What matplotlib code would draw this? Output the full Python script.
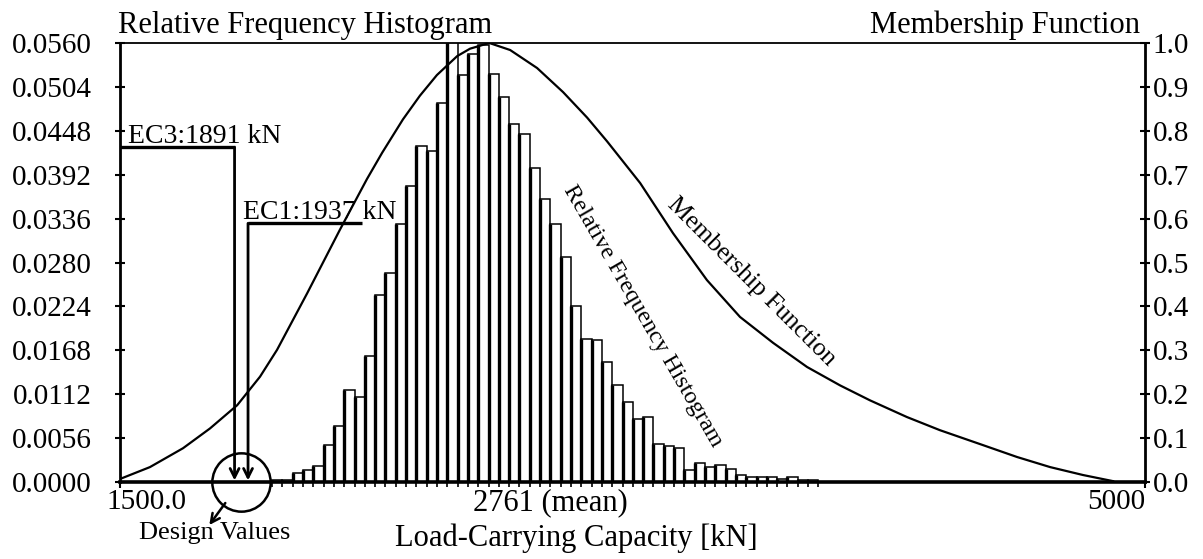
import numpy as np
import matplotlib
matplotlib.use('Agg')
import matplotlib.pyplot as plt
from matplotlib.transforms import ScaledTranslation, offset_copy

plt.rcParams['font.family'] = ['Liberation Serif', 'DejaVu Serif']

# relative frequency histogram (left axis), 35.2 kN bins starting at 2019 kN
bin_start = 2019.0
bin_width = 35.2
rel_freq = [0.0002, 0.0003, 0.0012, 0.0015, 0.0021, 0.0047, 0.0071, 0.0117,
            0.0108, 0.0161, 0.0238, 0.0267, 0.0329, 0.0378, 0.0428, 0.0422,
            0.0484, 0.0600, 0.0519, 0.0546, 0.0557, 0.0520, 0.0491, 0.0457,
            0.0444, 0.0400, 0.0361, 0.0329, 0.0287, 0.0225, 0.0183, 0.0181,
            0.0153, 0.0124, 0.0102, 0.0080, 0.0083, 0.0048, 0.0046, 0.0043,
            0.0015, 0.0024, 0.0019, 0.0022, 0.0017, 0.0009, 0.0007, 0.0006,
            0.0006, 0.0004, 0.0006, 0.0003, 0.0002]

# membership function (right axis)
mf_x = [1500, 1602, 1715, 1807, 1900, 1978, 2036, 2139, 2251, 2343, 2395,
        2466, 2524, 2582, 2651, 2695, 2761, 2832, 2924, 3013, 3095, 3163,
        3276, 3388, 3504, 3617, 3730, 3846, 3959, 4061, 4187, 4300, 4447,
        4563, 4676, 4788, 4891]
mf_y = [0.007, 0.034, 0.077, 0.122, 0.175, 0.240, 0.301, 0.430, 0.575, 0.690,
        0.750, 0.826, 0.880, 0.927, 0.970, 0.987, 1.000, 0.984, 0.943, 0.888,
        0.830, 0.776, 0.681, 0.567, 0.460, 0.376, 0.317, 0.262, 0.220, 0.186,
        0.148, 0.118, 0.084, 0.057, 0.034, 0.016, 0.002]

mean_value = 2761
ec3_value = 1891
ec1_value = 1937
x_ticks = [1500, 5000]
x_ticklabels = ['1500.0', '5000']
left_ticks = [0.0056 * i for i in range(11)]
right_ticks = [0.1 * i for i in range(11)]

fig = plt.figure(figsize=(12.03, 5.59), dpi=100)
ax = fig.add_axes([0.0998, 0.1377, 0.8520, 0.7854])
ax.set_xlim(1500, 5000)
ax.set_ylim(0, 0.056)

# histogram: white bars, thick left edges
edges = bin_start + bin_width * np.arange(len(rel_freq) + 1)
ax.bar(edges[:-1], rel_freq, width=bin_width, align='edge', color='white',
       edgecolor='black', linewidth=1.1, zorder=2)
ax.vlines(edges[:-1], 0, rel_freq, colors='black', linewidth=2.4, zorder=3)

# spines / ticks
ax.spines['right'].set_visible(False)
ax.spines['left'].set_linewidth(2.0)
ax.spines['bottom'].set_linewidth(2.6)
ax.spines['top'].set_linewidth(1.3)
ax.spines['bottom'].set_zorder(4)

ax.set_xticks(x_ticks, labels=x_ticklabels)
ax.set_xticks(edges, minor=True)
ax.tick_params(axis='x', which='major', direction='out', length=4, width=1.5,
               pad=1, labelsize=21)
ax.tick_params(axis='x', which='minor', direction='out', length=3.5, width=1.2)
xl = ax.get_xticklabels()
xl[0].set_ha('left')
xl[0].set_transform(xl[0].get_transform() +
                    ScaledTranslation(-0.14, 0, fig.dpi_scale_trans))
xl[1].set_ha('right')

ax.set_yticks(left_ticks, labels=['%.4f' % v for v in left_ticks])
ax.tick_params(axis='y', direction='inout', length=7, width=1.5, pad=17,
               labelsize=21)

ax2 = ax.twinx()
ax2.set_ylim(0, 1.0)
for s in ['left', 'top', 'bottom']:
    ax2.spines[s].set_visible(False)
ax2.spines['right'].set_linewidth(2.0)
ax2.set_yticks(right_ticks, labels=['%.1f' % v for v in right_ticks])
ax2.tick_params(axis='y', direction='inout', length=7, width=1.5, pad=2,
                labelsize=21)
ax2.plot(mf_x, mf_y, color='black', linewidth=1.6, solid_joinstyle='round')

# mean label
ax.annotate('%d (mean)' % mean_value, xy=(mean_value, 0),
            xycoords=('data', 'axes fraction'), xytext=(-16, -6),
            textcoords='offset pixels', ha='left', va='top', fontsize=22)

# headings
ax.annotate('Relative Frequency Histogram', xy=(0, 1), xycoords='axes fraction',
            xytext=(-2, 10), textcoords='offset pixels', ha='left',
            va='baseline', fontsize=22)
ax.annotate('Membership Function', xy=(0.995, 1), xycoords='axes fraction',
            xytext=(0, 10), textcoords='offset pixels', ha='right',
            va='baseline', fontsize=22)

# design value annotations
y_ec3 = 0.0427
y_ec1 = 0.0330
ax.plot([1500, ec3_value], [y_ec3, y_ec3], color='black', lw=2.4,
        solid_capstyle='butt', zorder=5)
ax.plot([ec1_value, 2325], [y_ec1, y_ec1], color='black', lw=2.4,
        solid_capstyle='butt', zorder=5)
for v, yy in [(ec3_value, y_ec3), (ec1_value, y_ec1)]:
    ax.annotate('', xy=(v, 0.0002), xytext=(v, yy),
                arrowprops=dict(arrowstyle='->', lw=2.0, color='black',
                                shrinkA=0, shrinkB=0, mutation_scale=16),
                zorder=5)
ax.annotate('EC3:1891 kN', xy=(1500, y_ec3), xytext=(8, 4),
            textcoords='offset pixels', ha='left', va='baseline', fontsize=20)
ax.annotate('EC1:1937 kN', xy=(ec1_value, y_ec1), xytext=(-5, 4),
            textcoords='offset pixels', ha='left', va='baseline', fontsize=20)

design_mid = (ec3_value + ec1_value) / 2
ax.plot([design_mid], [0], 'o', ms=42, mfc='none', mec='black', mew=1.8,
        clip_on=False, zorder=6)
head = offset_copy(ax.transData, fig=fig, x=-32, y=-43, units='dots')
ax.annotate('', xy=(design_mid, 0), xycoords=head, xytext=(16, 22),
            textcoords='offset pixels',
            arrowprops=dict(arrowstyle='->', lw=1.8, color='black',
                            shrinkA=0, shrinkB=0, mutation_scale=16),
            annotation_clip=False)
fig.text(215 / 1203, 1 - 533 / 559, 'Design Values', ha='center', va='center',
         fontsize=19)

# curve labels
ax2.text(3286, 0.378, 'Relative Frequency Histogram', rotation=-60,
         rotation_mode='anchor', ha='center', va='center', fontsize=17.5)
ax2.text(3655, 0.455, 'Membership Function', rotation=-45,
         rotation_mode='anchor', ha='center', va='center', fontsize=18.5)

fig.text(576 / 1203, 1 - 538 / 559, 'Load-Carrying Capacity [kN]',
         ha='center', va='center', fontsize=22)

fig.savefig('out.png', dpi=100)
